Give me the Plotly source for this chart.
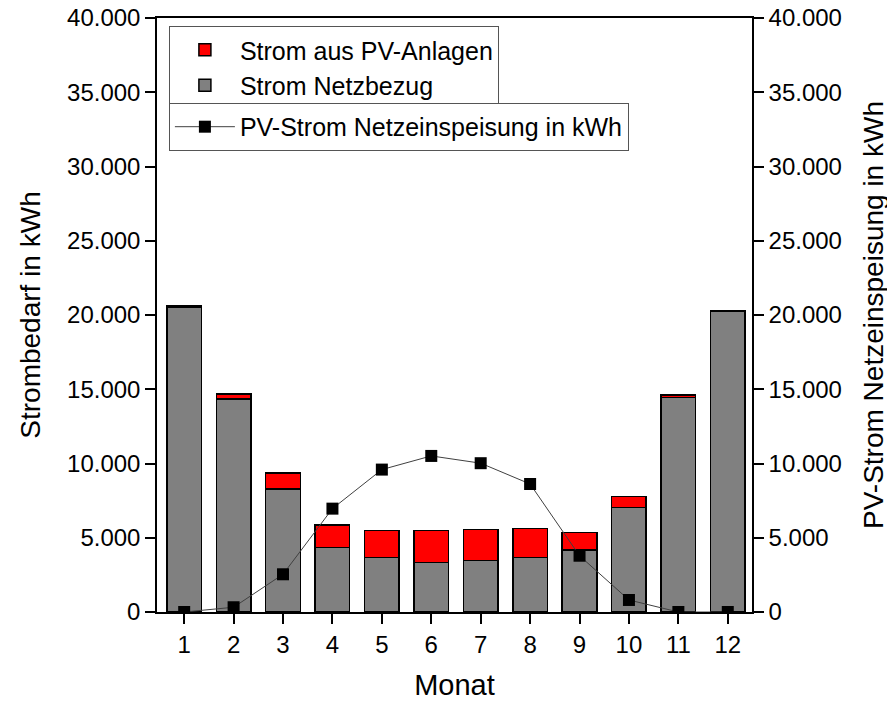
import plotly.graph_objects as go

months = [1, 2, 3, 4, 5, 6, 7, 8, 9, 10, 11, 12]
netzbezug = [20550, 14330, 8270, 4360, 3660, 3320, 3460, 3660, 4180, 7030, 14440, 20240]
pv_eigen = [40, 340, 1100, 1500, 1840, 2180, 2110, 1950, 1190, 740, 180, 30]
einspeisung = [0, 320, 2540, 6960, 9590, 10510, 10020, 8620, 3790, 810, 0, 0]

FONT = "Liberation Sans, Arial, sans-serif"

fig = go.Figure()
fig.add_bar(x=months, y=netzbezug, name="Strom Netzbezug", width=0.7,
            marker=dict(color="#808080", line=dict(color="black", width=1.5)),
            legend="legend")
fig.add_bar(x=months, y=pv_eigen, name="Strom aus PV-Anlagen", width=0.7,
            marker=dict(color="#FF0000", line=dict(color="black", width=1.5)),
            legend="legend")
fig.add_scatter(x=months, y=einspeisung, yaxis="y2", mode="lines+markers",
                name="PV-Strom Netzeinspeisung in kWh",
                line=dict(color="#404040", width=1),
                marker=dict(symbol="square", size=12, color="black"),
                legend="legend2")

axis_common = dict(showline=True, linecolor="black", linewidth=1.5, ticks="outside",
                   ticklen=10, tickwidth=1.5, tickcolor="black", showgrid=False,
                   zeroline=False, automargin=False, ticklabeloverflow="allow",
                   tickfont=dict(family=FONT, size=24, color="black"))

fig.update_layout(
    width=887, height=693,
    margin=dict(l=149, r=143, t=10, b=89, autoexpand=False),
    paper_bgcolor="white", plot_bgcolor="white",
    barmode="stack",
    separators=",.",
    font=dict(family=FONT, color="black"),
    xaxis=dict(range=[0.45, 12.49], tickvals=months, mirror=True,
               title=dict(text="Monat", font=dict(family=FONT, size=29), standoff=19),
               **axis_common),
    yaxis=dict(range=[0, 40000], dtick=5000, tickformat=",d",
               title=dict(text="Strombedarf in kWh", font=dict(family=FONT, size=28), standoff=18),
               **axis_common),
    yaxis2=dict(range=[0, 40000], dtick=5000, tickformat=",d", overlaying="y", side="right",
                ticklabelstandoff=0,
                title=dict(text="PV-Strom Netzeinspeisung in kWh", font=dict(family=FONT, size=28), standoff=22),
                **axis_common),
    legend=dict(x=0.02, y=0.9865, xanchor="left", yanchor="top", traceorder="reversed",
                bgcolor="white", bordercolor="#555", borderwidth=1, itemwidth=60,
                font=dict(family=FONT, size=25, color="black")),
    legend2=dict(x=0.02, y=0.857, xanchor="left", yanchor="top",
                 bgcolor="white", bordercolor="#555", borderwidth=1, itemwidth=60,
                 font=dict(family=FONT, size=25, color="black")),
)

fig.write_html("out.html")
